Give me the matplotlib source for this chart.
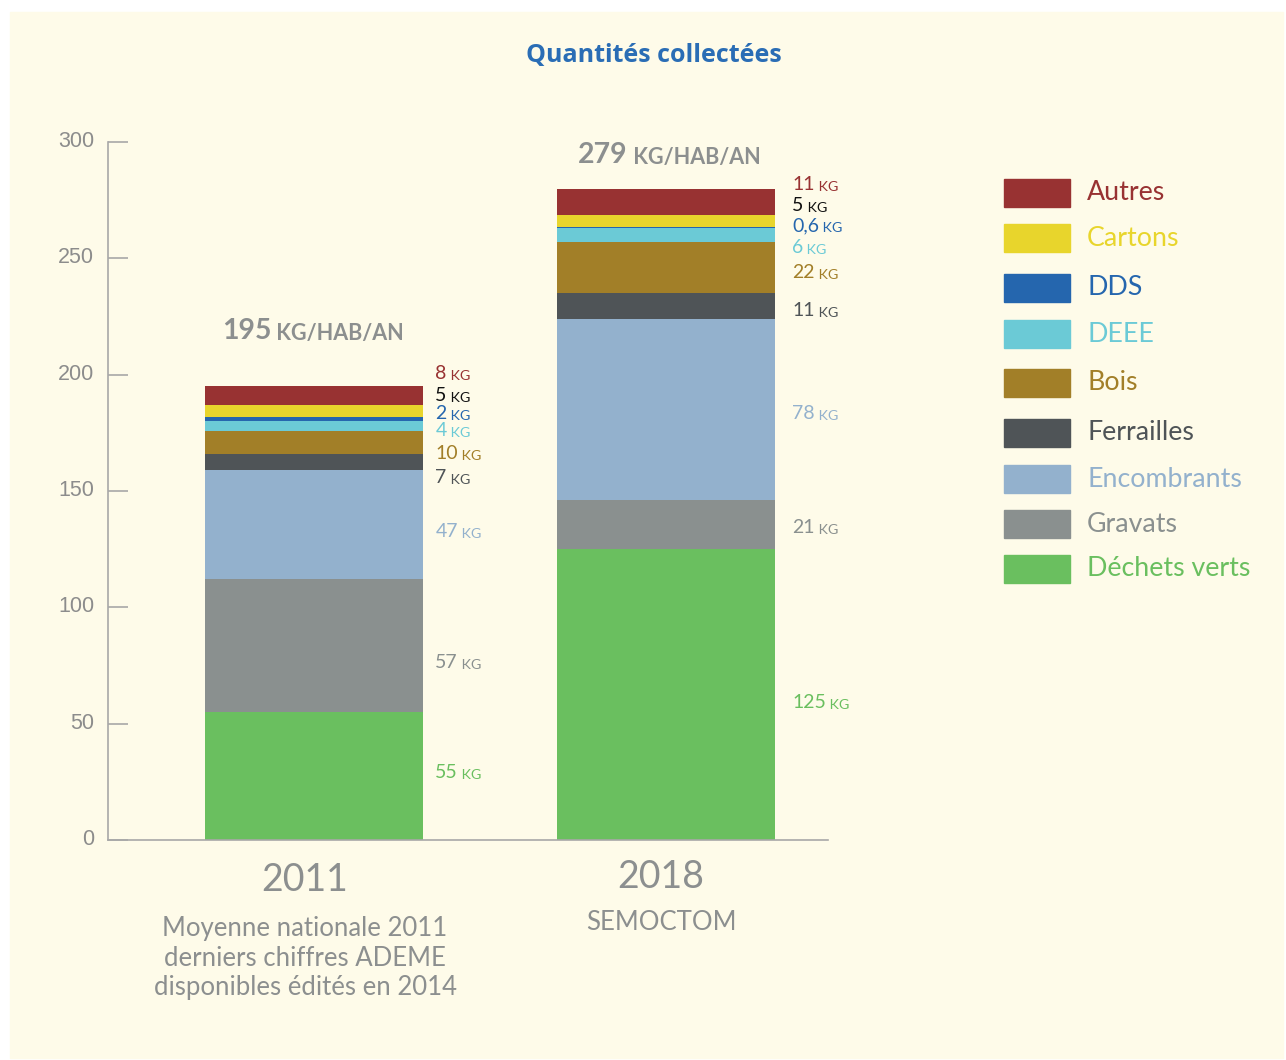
import numpy as np
import matplotlib.pyplot as plt
from matplotlib.patches import Rectangle
from matplotlib.transforms import ScaledTranslation

# Quantités collectées, kg par habitant et par an
categories = ["Déchets verts", "Gravats", "Encombrants", "Ferrailles", "Bois",
              "DEEE", "DDS", "Cartons", "Autres"]
years = ["2011", "2018"]
subtitles = ["Moyenne nationale 2011\nderniers chiffres ADEME\ndisponibles édités en 2014",
             "SEMOCTOM"]
values_2011 = [55, 57, 47, 7, 10, 4, 2, 5, 8]
values_2018 = [125, 21, 78, 11, 22, 6, 0.6, 5, 11]
totals = ["195", "279"]

colors = ["#6abf5f", "#8a908f", "#93b1cd", "#4f5457", "#a27f28",
          "#6bcad6", "#2566ae", "#e8d52c", "#983232"]
label_colors = ["#6abf5f", "#8a908f", "#93b1cd", "#4f5457", "#a27f28",
                "#6bcad6", "#2566ae", "#111111", "#983232"]

# where the value labels sit (data units), spread apart for the thin layers
label_y_2011 = [28.8, 76.1, 132.4, 156, 166.3, 175.8, 183.5, 191.2, 200.3]
label_y_2018 = [59.3, 134.5, 183.1, 227.4, 243.7, 254.5, 263.9, 272.9, 281.9]

W, H = 1286, 1060
fig = plt.figure(figsize=(W / 100, H / 100), dpi=100, facecolor="white")
fig.patches.append(Rectangle((10 / W, 2 / H), 1273 / W, 1046 / H,
                             transform=fig.transFigure, color="#fefbe9", zorder=-1))

ax = fig.add_axes([108 / W, 220 / H, 720 / W, 698 / H])
ax.set_facecolor("none")

x = np.array([0, 1])
width = 0.62
data = np.array([values_2011, values_2018])
bottoms = np.zeros(2)
for i, cat in enumerate(categories):
    ax.bar(x, data[:, i], width, bottom=bottoms, color=colors[i], linewidth=0)
    bottoms += data[:, i]

ax.set_xlim(-0.586, 1.462)
ax.set_ylim(0, 300)
ax.set_yticks([0, 50, 100, 150, 200, 250, 300])
ax.set_xticks([])
for s in ["top", "right"]:
    ax.spines[s].set_visible(False)
for s in ["left", "bottom"]:
    ax.spines[s].set_color("#a8a8a8")
    ax.spines[s].set_linewidth(1.2)
ax.tick_params(axis="y", direction="in", length=14.4, width=1.2, color="#a8a8a8",
               labelcolor="#8c8c8c", labelsize=15.5, pad=10)
lift = ScaledTranslation(0, 3 / 100, fig.dpi_scale_trans)
for lab in ax.get_yticklabels():
    lab.set_fontfamily("Liberation Sans")
    lab.set_transform(lab.get_transform() + lift)


def fmt(v):
    return str(int(v)) if float(v).is_integer() else str(v).replace(".", ",")


label_x = [0.345, 1.36]
for j, (vals, ys) in enumerate([(values_2011, label_y_2011), (values_2018, label_y_2018)]):
    for i, v in enumerate(vals):
        t = ax.text(label_x[j], ys[i], fmt(v), fontsize=14, family="Lato",
                    color=label_colors[i], ha="left", va="center")
        ax.annotate(" KG", xy=(1, 0), xycoords=t, fontsize=10.3, family="Lato",
                    color=label_colors[i], ha="left", va="bottom")

# totals above the bars
total_pos = [(-0.262, 218.7), (0.751, 294.4)]
for (tx, ty), tot in zip(total_pos, totals):
    t = ax.text(tx, ty, tot, fontsize=20.5, family="Lato", weight="bold",
                color="#8c8f8f", ha="left", va="center")
    ax.annotate(" KG/HAB/AN", xy=(1, 0), xycoords=t, fontsize=15.5, family="Lato",
                weight="bold", color="#8c8f8f", ha="left", va="bottom")

# year labels and subtitles under the bars
year_x = [305, 661]
year_y = [880, 877]
sub_y = [958, 923]
for k in range(2):
    fig.text(year_x[k] / W, 1 - year_y[k] / H, years[k], fontsize=27, family="Lato",
             color="#8c8f8f", ha="center", va="center")
    fig.text(year_x[k] / W, 1 - sub_y[k] / H, subtitles[k], fontsize=18.5, family="Lato",
             color="#8c8f8f", ha="center", va="center", linespacing=1.22)

fig.text(654 / W, 1 - 55 / H, "Quantités collectées", fontsize=18, family="Open Sans",
         weight="bold", color="#2a6db5", ha="center", va="center")

# legend, top to bottom
legend_order = list(range(len(categories)))[::-1]
legend_rows = [193, 238, 288, 334, 383, 433, 479, 524, 569]
for yc, i in zip(legend_rows, legend_order):
    fig.patches.append(Rectangle((1004 / W, 1 - (yc + 14) / H), 66 / W, 28 / H,
                                 transform=fig.transFigure, color=colors[i]))
    fig.text(1087 / W, 1 - yc / H, categories[i], fontsize=19.3, family="Lato",
             color=label_colors[i] if i != 7 else colors[i], ha="left", va="center")

fig.savefig("out.png", dpi=100, facecolor=fig.get_facecolor())
